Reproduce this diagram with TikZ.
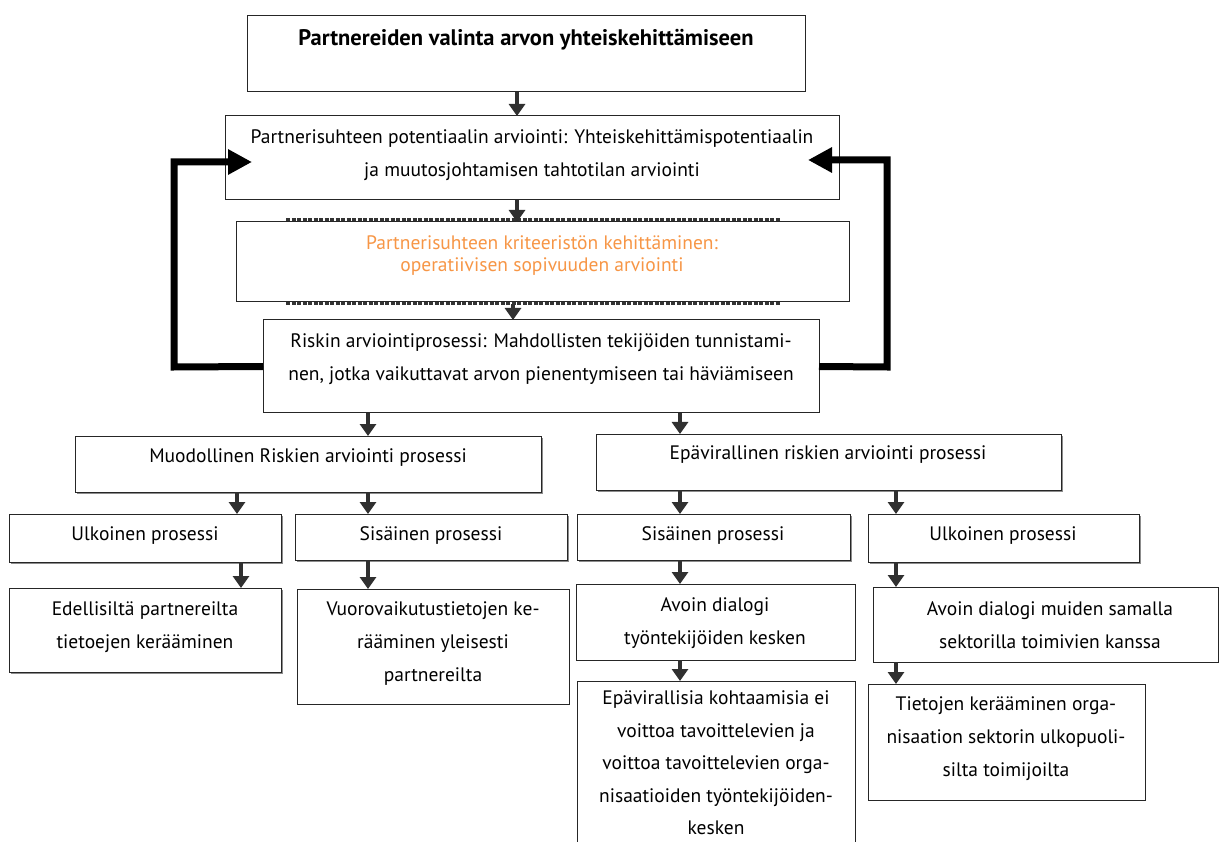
\documentclass[tikz,border=0pt]{standalone}
\usepackage{fontspec}
\setmainfont{PT Sans}
\usetikzlibrary{arrows.meta,shadows}
\definecolor{orangeC}{HTML}{F79646}
\definecolor{arrC}{HTML}{303030}
\tikzset{
  box/.style={draw=black!85, line width=1pt, fill=white, inner sep=0pt, outer sep=0pt},
  shd/.style={drop shadow={shadow xshift=2pt, shadow yshift=-2pt, fill=black!45, opacity=1}},
  txt/.style={align=center, inner sep=0pt, font=\fontsize{19.5}{33}\selectfont},
  ttl/.style={align=center, inner sep=0pt, font=\fontsize{22.5}{26}\selectfont\bfseries},
  org/.style={align=center, inner sep=0pt, text=orangeC, font=\fontsize{19.5}{22}\selectfont},
  arr/.style={draw=arrC, line width=4pt, -{Triangle[width=16pt,length=12pt]}},
  fb/.style={draw=black, line width=7pt, -{Triangle[width=24pt,length=24pt]}},
  dl/.style={draw=black!80, line width=3pt, dash pattern=on 4pt off 1.5pt},
}
\newcommand{\mkbox}[6][]{\node[box,#1,minimum width={(#5-#3)*1pt},minimum height={(#6-#4)*1pt}] (#2) at ({(#3+#5)/2},{(#4+#6)/2}) {};}
\begin{document}
\begin{tikzpicture}[x=1pt,y=-1pt]
\fill[white] (0,0) rectangle (1219,842);
\useasboundingbox (0,0) rectangle (1219,842);
% column coordinates
\coordinate (xa) at (517,0);
\coordinate (xb) at (513,0);
\coordinate (xl1) at (368,0);
\coordinate (xr1) at (680,0);
\coordinate (xl0) at (237,0);
\coordinate (xl0b) at (241,0);
\coordinate (xr2) at (896,0);
% dashed lines around criteria box
\draw[dl] (286,220) -- (780,220);
\draw[dl] (286,304) -- (780,304);
% boxes
\mkbox{b1}{247}{16}{805}{92}
\mkbox{b2}{225}{116}{839}{200}
\mkbox{b3}{236}{222}{849}{302}
\mkbox{b4}{263}{320}{819}{413}
\mkbox[shd]{muod}{75}{436}{541}{492}
\mkbox[shd]{epav}{596}{434}{1061}{490}
\mkbox[shd]{ulkL}{9}{514}{281}{562}
\mkbox[shd]{sisL}{295}{514}{567}{560}
\mkbox[shd]{sisR}{577}{514}{850}{560}
\mkbox[shd]{ulkR}{868}{514}{1139}{562}
\mkbox[shd]{edel}{9}{588}{281}{672}
\mkbox{vuoro}{297}{589}{569}{704}
\mkbox{avoin}{576}{584}{855}{660}
\mkbox{avoinM}{873}{587}{1218}{662}
\mkbox{epavi}{577}{681}{855}{860}
\mkbox{tiet}{868}{684}{1145}{800}
% texts
\node[ttl] (b1t) at (526,40) {Partnereiden valinta arvon yhteiskehittämiseen};
\node[txt] (b2t) at (532,155) {Partnerisuhteen potentiaalin arviointi: Yhteiskehittämispotentiaalin\\ja muutosjohtamisen tahtotilan arviointi};
\node[org] (b3t) at (542,256) {Partnerisuhteen kriteeristön kehittäminen:\\operatiivisen sopivuuden arviointi};
\node[txt] (b4t) at (541,359.5) {Riskin arviointiprosessi: Mahdollisten tekijöiden tunnistami-\\nen, jotka vaikuttavat arvon pienentymiseen tai häviämiseen};
\node[txt] (muodt) at (308,458) {Muodollinen Riskien arviointi prosessi};
\node[txt] (epavt) at (828,455) {Epävirallinen riskien arviointi prosessi};
\node[txt] (ulkLt) at (145,536) {Ulkoinen prosessi};
\node[txt] (sisLt) at (431,536) {Sisäinen prosessi};
\node[txt] (sisRt) at (713,536) {Sisäinen prosessi};
\node[txt] (ulkRt) at (1003,536) {Ulkoinen prosessi};
\node[txt] (edelt) at (145,627) {Edellisiltä partnereilta\\tietoejen kerääminen};
\node[txt] (vuorot) at (433,644) {Vuorovaikutustietojen ke-\\rääminen yleisesti\\partnereilta};
\node[txt] (avoint) at (715,623) {Avoin dialogi\\työntekijöiden kesken};
\node[txt] (avoinMt) at (1050,625) {Avoin dialogi muiden samalla\\sektorilla toimivien kanssa};
\node[txt, font=\fontsize{19.5}{32.5}\selectfont] (epavit) at (716,763) {Epävirallisia kohtaamisia ei\\voittoa tavoittelevien ja\\voittoa tavoittelevien orga-\\nisaatioiden työntekijöiden-\\kesken};
\node[txt] (tiett) at (1006,739) {Tietojen kerääminen orga-\\nisaation sektorin ulkopuoli-\\silta toimijoilta};
% arrows
\draw[arr] (b1.south -| xa) -- (b2.north -| xa);
\draw[arr] (b2.south -| xa) -- (b3.north -| xa);
\draw[arr] ([yshift=-2pt]b3.south -| xb) -- (b4.north -| xb);
\draw[arr] (b4.south -| xl1) -- (muod.north -| xl1);
\draw[arr] (b4.south -| xr1) -- (epav.north -| xr1);
\draw[arr] (muod.south -| xl0) -- (ulkL.north -| xl0);
\draw[arr] (muod.south -| xl1) -- (sisL.north -| xl1);
\draw[arr] (epav.south -| xr1) -- (sisR.north -| xr1);
\draw[arr] (epav.south -| xr2) -- (ulkR.north -| xr2);
\draw[arr] (ulkL.south -| xl0b) -- (edel.north -| xl0b);
\draw[arr] (sisL.south -| xl1) -- (vuoro.north -| xl1);
\draw[arr] (sisR.south -| xr1) -- (avoin.north -| xr1);
\draw[arr] (ulkR.south -| xr2) -- (avoinM.north -| xr2);
\draw[arr] (avoin.south -| xr1) -- (epavi.north -| xr1);
\draw[arr] (avoinM.south -| xr2) -- (tiet.north -| xr2);
% feedback loops
\coordinate (lc1) at (174,367);
\coordinate (lc2) at (174,162);
\coordinate (rc1) at (887,367);
\coordinate (rc2) at (887,160);
\draw[fb] (b4.west) -- (lc1) -- (lc2) -- ([xshift=27pt,yshift=-4pt]b2.west);
\draw[fb] (b4.east) -- (rc1) -- (rc2) -- ([xshift=-31pt,yshift=-2pt]b2.east);
\end{tikzpicture}
\end{document}
